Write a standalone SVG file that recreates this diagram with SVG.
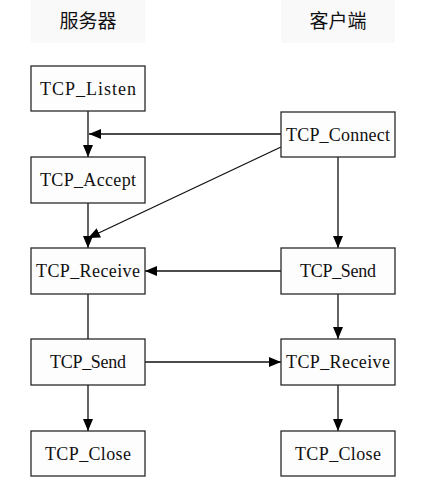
<svg xmlns="http://www.w3.org/2000/svg" width="424" height="490" viewBox="0 0 424 490">
<style>
.box{fill:#fdfdfd;stroke:#2a2a2a;stroke-width:1.3}
.lbl{font-family:"Liberation Serif","Times New Roman",serif;font-size:18px;fill:#111;text-anchor:middle}
.hdr{font-family:"Noto Sans CJK SC",sans-serif;font-size:19px;fill:#111;text-anchor:middle}
.hbg{fill:#f9f9f9}
.ln{stroke:#111;stroke-width:1.3;fill:none}
</style>
<defs>
<marker id="ah" markerWidth="12" markerHeight="10" viewBox="0 0 12 10" refX="12" refY="5" orient="auto" markerUnits="userSpaceOnUse">
<path d="M0,0 L12,5 L0,10 Z" fill="#000"/>
</marker>
</defs>
<rect width="424" height="490" fill="#fff"/>
<g id="header-server"><rect class="hbg" x="31" y="0" width="114" height="43"/><text class="hdr" x="88" y="28">服务器</text></g>
<g id="header-client"><rect class="hbg" x="281" y="0" width="114" height="43"/><text class="hdr" x="338" y="28">客户端</text></g>
<g id="connectors">
<line class="ln" x1="88" y1="111" x2="88" y2="157" marker-end="url(#ah)"/>
<line class="ln" x1="281" y1="134" x2="89" y2="134" marker-end="url(#ah)"/>
<line class="ln" x1="281" y1="147" x2="88" y2="238" marker-end="url(#ah)"/>
<line class="ln" x1="88" y1="203" x2="88" y2="248" marker-end="url(#ah)"/>
<line class="ln" x1="338" y1="157" x2="338" y2="248" marker-end="url(#ah)"/>
<line class="ln" x1="281" y1="271" x2="145" y2="271" marker-end="url(#ah)"/>
<line class="ln" x1="88" y1="294" x2="88" y2="339"/>
<line class="ln" x1="338" y1="294" x2="338" y2="339" marker-end="url(#ah)"/>
<line class="ln" x1="145" y1="362" x2="281" y2="362" marker-end="url(#ah)"/>
<line class="ln" x1="88" y1="385" x2="88" y2="431" marker-end="url(#ah)"/>
<line class="ln" x1="338" y1="385" x2="338" y2="431" marker-end="url(#ah)"/>
</g>
<g id="s-listen"><rect class="box" x="31" y="66" width="114" height="45"/><text class="lbl" x="88" y="95" textLength="96" lengthAdjust="spacing">TCP_Listen</text></g>
<g id="c-connect"><rect class="box" x="281" y="112" width="114" height="45"/><text class="lbl" x="338" y="141" textLength="104" lengthAdjust="spacing">TCP_Connect</text></g>
<g id="s-accept"><rect class="box" x="31" y="157" width="114" height="46"/><text class="lbl" x="88" y="186" textLength="96" lengthAdjust="spacing">TCP_Accept</text></g>
<g id="s-receive"><rect class="box" x="31" y="248" width="114" height="46"/><text class="lbl" x="88" y="277" textLength="104" lengthAdjust="spacing">TCP_Receive</text></g>
<g id="c-send"><rect class="box" x="281" y="248" width="114" height="46"/><text class="lbl" x="338" y="277" textLength="76" lengthAdjust="spacing">TCP_Send</text></g>
<g id="s-send"><rect class="box" x="31" y="339" width="114" height="46"/><text class="lbl" x="88" y="368" textLength="76" lengthAdjust="spacing">TCP_Send</text></g>
<g id="c-receive"><rect class="box" x="281" y="339" width="114" height="46"/><text class="lbl" x="338" y="368" textLength="104" lengthAdjust="spacing">TCP_Receive</text></g>
<g id="s-close"><rect class="box" x="31" y="431" width="114" height="45"/><text class="lbl" x="88" y="460" textLength="86" lengthAdjust="spacing">TCP_Close</text></g>
<g id="c-close"><rect class="box" x="281" y="431" width="114" height="45"/><text class="lbl" x="338" y="460" textLength="86" lengthAdjust="spacing">TCP_Close</text></g>
</svg>
